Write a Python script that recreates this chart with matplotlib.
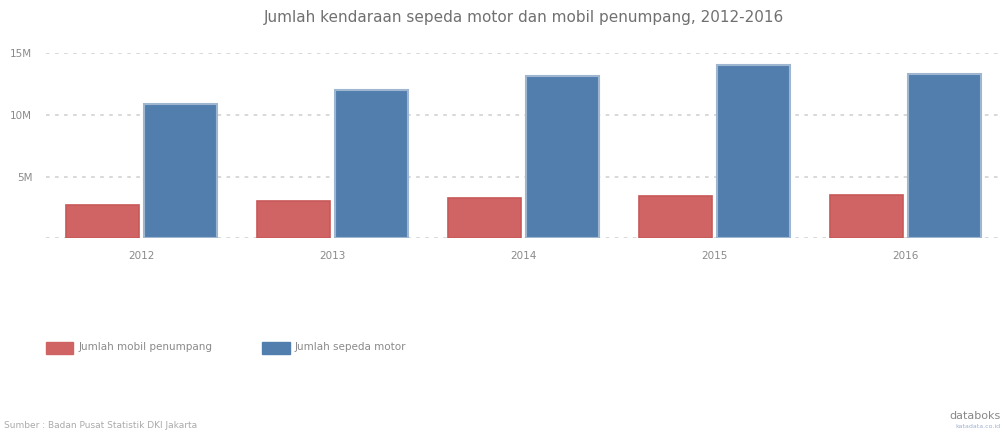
import matplotlib
matplotlib.use("Agg")
from matplotlib import pyplot as plt
from matplotlib.patches import Rectangle
import numpy as np

tahun = ["2012", "2013", "2014", "2015", "2016"]
mobil_penumpang = [2742414, 3010403, 3266009, 3469168, 3525925]
sepeda_motor = [10825973, 11949280, 13084372, 13989590, 13310672]

warna_merah = "#d06464"
warna_biru = "#527eae"
abu = "#8a8a8a"

fig = plt.figure(figsize=(10.03, 4.32), dpi=100)
ax = fig.add_axes([0.046, 0.448, 0.952, 0.43])

x = np.arange(len(tahun))
lebar = 0.38
ax.bar(x - lebar / 2 - 0.015, mobil_penumpang, lebar, color=warna_merah,
       edgecolor="#c85858", linewidth=1.2, zorder=3)
ax.bar(x + lebar / 2 + 0.015, sepeda_motor, lebar, color=warna_biru,
       edgecolor="#9fb6d0", linewidth=1.5, zorder=3)

ax.set_xlim(-0.5, 4.5)
ax.set_ylim(0, 15000000)
ax.set_yticks([0, 5000000, 10000000, 15000000])
ax.set_yticklabels(["", "5M", "10M", "15M"])
ax.set_xticks(x)
ax.set_xticklabels(tahun)
ax.tick_params(axis="both", length=0, labelsize=7.5, labelcolor=abu)
ax.tick_params(axis="x", pad=9)
ax.tick_params(axis="y", pad=10)
ax.grid(axis="y", linestyle=(0, (2, 3)), color="#d6d6d6", linewidth=1.3, zorder=0)
for s in ax.spines.values():
    s.set_visible(False)

fig.text(0.522, 0.96, "Jumlah kendaraan sepeda motor dan mobil penumpang, 2012-2016",
         ha="center", va="center", fontsize=11, color="#707070")

# legenda manual
fig.patches.append(Rectangle((46 / 1003, 1 - 354 / 432), 27 / 1003, 12 / 432,
                             transform=fig.transFigure, color=warna_merah))
fig.text(79 / 1003, 1 - 347 / 432, "Jumlah mobil penumpang", va="center",
         fontsize=7.5, color=abu)
fig.patches.append(Rectangle((262 / 1003, 1 - 354 / 432), 28 / 1003, 12 / 432,
                             transform=fig.transFigure, color=warna_biru))
fig.text(295 / 1003, 1 - 347 / 432, "Jumlah sepeda motor", va="center",
         fontsize=7.5, color=abu)

fig.text(4 / 1003, 1 - 426 / 432, "Sumber : Badan Pusat Statistik DKI Jakarta",
         va="center", fontsize=6.5, color="#aaaaaa")
fig.text(0.998, 1 - 416 / 432, "databoks", ha="right", va="center",
         fontsize=8, color="#888888")
fig.text(0.998, 1 - 427 / 432, "katadata.co.id", ha="right", va="center",
         fontsize=4.5, color="#9fb0d0")

fig.savefig("out.png", dpi=100)
